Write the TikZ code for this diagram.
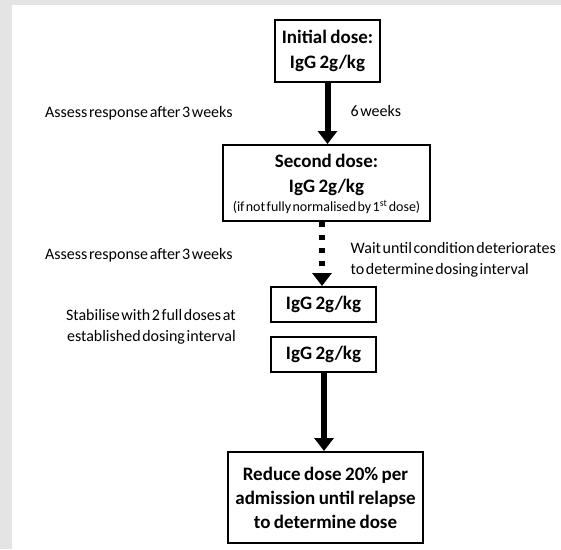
\documentclass[tikz,border=0pt]{standalone}
\usepackage{fontspec}
\setmainfont{Carlito}[WordSpace=0.45]
\newfontfamily\boxfont{Carlito}[WordSpace=0.8]
\usetikzlibrary{arrows.meta}
\definecolor{framegray}{HTML}{E4E4E4}
\begin{document}
\begin{tikzpicture}[x=1pt,y=-1pt,
  box/.style={draw=black,line width=2pt,fill=white,inner sep=0pt,align=center,font=\boxfont\fontsize{19}{25}\selectfont\bfseries},
  lbl/.style={font=\fontsize{16}{20.5}\selectfont,inner sep=0pt},
  conn/.style={line width=6pt,-{Triangle[width=19pt,length=13pt]}},
  dconn/.style={conn,dash pattern=on 5pt off 8pt}]
\useasboundingbox (0,0) rectangle (561,549);
\fill[framegray] (0,0) rectangle (561,549);
\fill[white] (12,5) rectangle (561,549);
% boxes
\node[box,minimum width=105pt,minimum height=62pt] (b1) at (327.5,51) {Initial dose:\\IgG 2g/kg};
\node[box,minimum width=207pt,minimum height=76pt] (b2) at (326.5,183) {};
\node[font=\boxfont\fontsize{19}{25}\selectfont\bfseries,inner sep=0pt,align=center] (b2t) at (326.5,175) {Second dose:\\IgG 2g/kg};
\node[font=\fontsize{14}{15}\selectfont,inner sep=0pt] (b2s) at (326.5,207) {(if not fully normalised by 1\textsuperscript{st} dose)};
\node[box,minimum width=105pt,minimum height=35pt] (b3) at (323.5,304.5) {IgG 2g/kg};
\node[box,minimum width=105pt,minimum height=35pt] (b4) at (323.5,354.5) {IgG 2g/kg};
\node[box,minimum width=195pt,minimum height=91pt,font=\boxfont\fontsize{19}{24}\selectfont\bfseries] (b5) at (325.5,497.5) {Reduce dose 20\% per\\admission until relapse\\to determine dose};
% connectors
\draw[conn] (b1.south -| 327.5,0) -- (b2.north -| 327.5,0);
\draw[dconn] (b2.south -| 322,0) -- (b3.north -| 322,0);
\draw[conn] (b4.south -| 324,0) -- (b5.north -| 324,0);
% labels
\node[lbl,anchor=west] (l1) at (45,113) {Assess response after 3 weeks};
\node[lbl,anchor=west] (l2) at (350.5,111) {6 weeks};
\node[lbl,anchor=west] (l3) at (45,255) {Assess response after 3 weeks};
\node[lbl,anchor=west,align=left] (l4) at (350.5,260) {Wait until condition deteriorates\\to determine dosing interval};
\node[lbl,anchor=east,align=right] (l5) at (236,327) {Stabilise with 2 full doses at\\established dosing interval};
\end{tikzpicture}
\end{document}
